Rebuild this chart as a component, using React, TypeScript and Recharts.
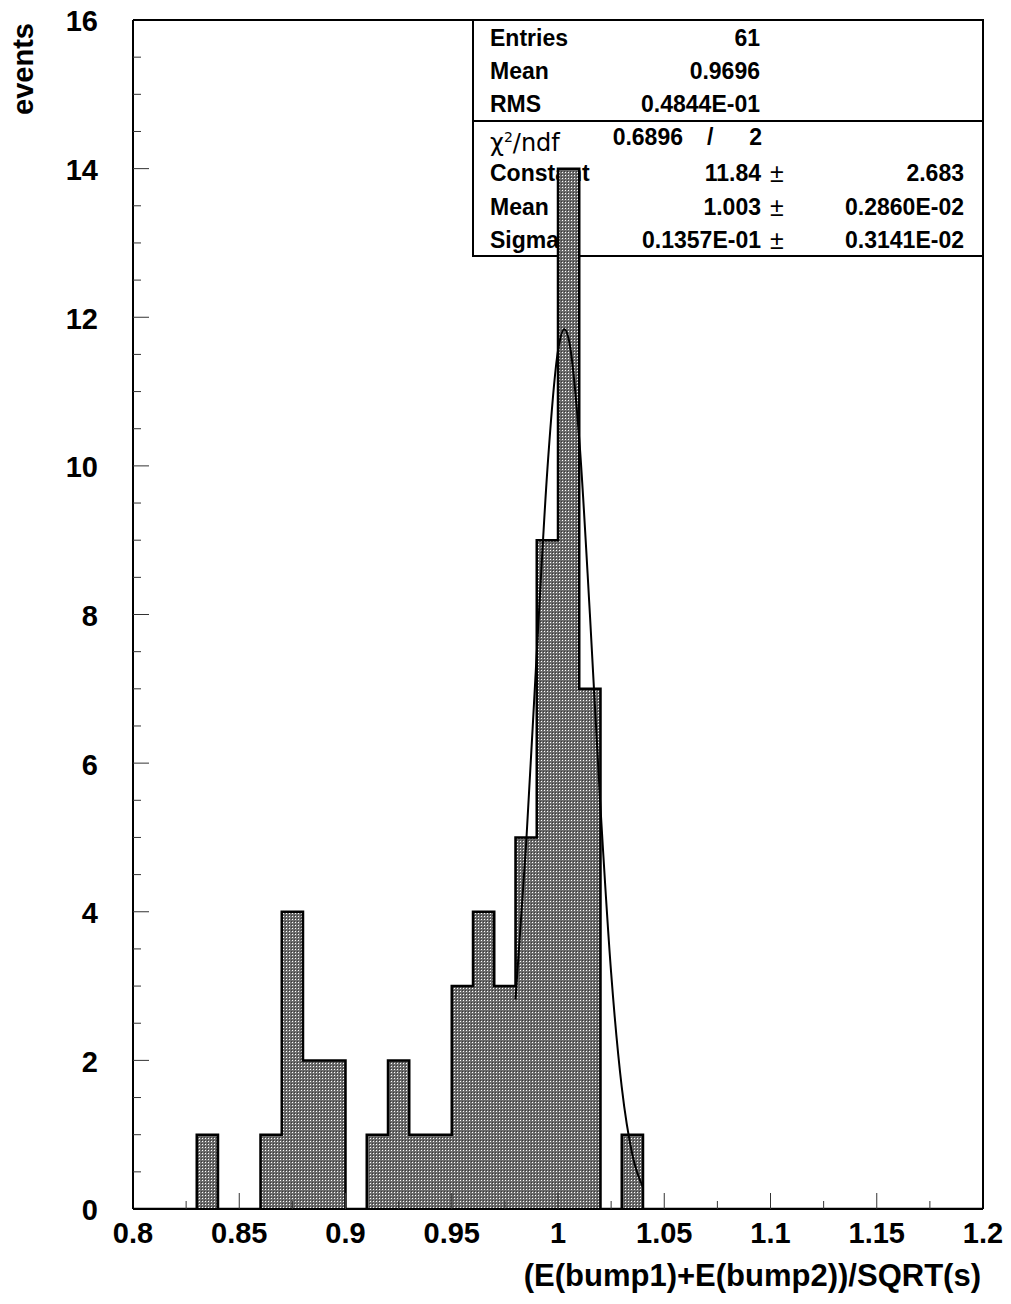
import React from "react";
import {
  ComposedChart,
  Area,
  Line,
  XAxis,
  YAxis,
  ReferenceLine,
} from "recharts";

// histogram: bins of 0.01 from 0.80 to 1.20
const binStart = 0.8;
const binWidth = 0.01;
const binCounts = [
  0, 0, 0, 1, 0, 0, 1, 4, 2, 2,
  0, 1, 2, 1, 1, 3, 4, 3, 5, 9,
  14, 7, 0, 1, 0, 0, 0, 0, 0, 0,
  0, 0, 0, 0, 0, 0, 0, 0, 0, 0,
];

// gaussian fit curve
const fitX = [0.98, 0.985, 0.99, 0.995, 1.0, 1.003, 1.005, 1.01, 1.015, 1.02, 1.025, 1.03, 1.035, 1.04];
const fitY = [2.82, 4.91, 7.48, 9.95, 11.55, 11.84, 11.71, 10.36, 8.01, 5.4, 3.18, 1.64, 0.73, 0.29];

const xTicks = [0.8, 0.825, 0.85, 0.875, 0.9, 0.925, 0.95, 0.975, 1.0, 1.025, 1.05, 1.075, 1.1, 1.125, 1.15, 1.175, 1.2];
const xMajor = [0.8, 0.85, 0.9, 0.95, 1.0, 1.05, 1.1, 1.15, 1.2];
const yTicks = [
  0, 0.5, 1, 1.5, 2, 2.5, 3, 3.5, 4, 4.5, 5, 5.5, 6, 6.5, 7, 7.5, 8,
  8.5, 9, 9.5, 10, 10.5, 11, 11.5, 12, 12.5, 13, 13.5, 14, 14.5, 15, 15.5, 16,
];
const yMajor = [0, 2, 4, 6, 8, 10, 12, 14, 16];

const statsTop = [
  { label: "Entries", value: "61" },
  { label: "Mean", value: "0.9696" },
  { label: "RMS", value: "0.4844E-01" },
];
const chi2 = { value: "0.6896", ndf: "2" };
const fitParams = [
  { label: "Constant", value: "11.84", error: "2.683" },
  { label: "Mean", value: "1.003", error: "0.2860E-02" },
  { label: "Sigma", value: "0.1357E-01", error: "0.3141E-02" },
];

const histData = binCounts
  .map((c, i) => ({ x: +(binStart + i * binWidth).toFixed(2), count: c }))
  .concat([{ x: 1.2, count: 0 }]);
const fitData = fitX.map((x, i) => ({ x, y: fitY[i] }));

const FONT = "'Liberation Sans', Arial, Helvetica, sans-serif";
const W = 1011;
const H = 1304;

const near = (a: number, list: number[]) => list.some((m) => Math.abs(m - a) < 1e-6);

const YTick = (props: any) => {
  const { x, y, payload } = props;
  const v = payload.value;
  const major = near(v, yMajor);
  return (
    <g>
      {v > 0 && v < 16 && (
        <line x1={x} x2={x + (major ? 16 : 8)} y1={y} y2={y} stroke="#333" strokeWidth={1} />
      )}
      {major && (
        <text x={x - 35} y={y + 1} dy="0.36em" textAnchor="end" fontFamily={FONT} fontWeight="bold" fontSize={29} fill="#000">
          {v}
        </text>
      )}
    </g>
  );
};

const XTick = (props: any) => {
  const { x, y, payload } = props;
  const v = payload.value;
  const major = near(v, xMajor);
  return (
    <g>
      {v > 0.8 && v < 1.2 && (
        <line x1={x} x2={x} y1={y} y2={y - (major ? 16 : 8)} stroke="#333" strokeWidth={1} />
      )}
      {major && (
        <text x={x} y={y + 34} textAnchor="middle" fontFamily={FONT} fontWeight="bold" fontSize={29} fill="#000">
          {String(+v.toFixed(2))}
        </text>
      )}
    </g>
  );
};

const rowStyle = (top: number): React.CSSProperties => ({
  position: "absolute",
  top: top - 14,
  height: 28,
  lineHeight: "28px",
  whiteSpace: "nowrap",
});

const StatsBox = () => {
  const left = 472;
  const txt: React.CSSProperties = { fontFamily: FONT, fontWeight: "bold", fontSize: 23, color: "#000" };
  const topRows = [38, 71, 104];
  const fitRows = [173, 207, 240];
  return (
    <div style={{ position: "absolute", left: 0, top: 0, width: W, height: H, zIndex: 0 }}>
      <div
        style={{
          position: "absolute",
          left,
          top: 19,
          width: 983 - left + 1,
          height: 257 - 19,
          border: "2px solid #000",
          boxSizing: "border-box",
          background: "#fff",
        }}
      />
      <div style={{ position: "absolute", left, top: 120, width: 983 - left, height: 2, background: "#000" }} />
      {statsTop.map((s, i) => (
        <React.Fragment key={s.label}>
          <div style={{ ...txt, ...rowStyle(topRows[i]), left: 490 }}>{s.label}</div>
          <div style={{ ...txt, ...rowStyle(topRows[i]), right: W - 760 }}>{s.value}</div>
        </React.Fragment>
      ))}
      <div style={{ ...txt, ...rowStyle(137), left: 490, fontWeight: "normal", fontFamily: "'DejaVu Sans', sans-serif", fontSize: 24 }}>
        χ<sup style={{ fontSize: 14 }}>2</sup>/ndf
      </div>
      <div style={{ ...txt, ...rowStyle(137), right: W - 683 }}>{chi2.value}</div>
      <div style={{ ...txt, ...rowStyle(137), left: 707 }}>/</div>
      <div style={{ ...txt, ...rowStyle(137), right: W - 762 }}>{chi2.ndf}</div>
      {fitParams.map((p, i) => (
        <React.Fragment key={p.label}>
          <div style={{ ...txt, ...rowStyle(fitRows[i]), left: 490 }}>{p.label}</div>
          <div style={{ ...txt, ...rowStyle(fitRows[i]), right: W - 761 }}>{p.value}</div>
          <div style={{ ...txt, ...rowStyle(fitRows[i]), left: 770, fontWeight: "normal", fontSize: 25 }}>±</div>
          <div style={{ ...txt, ...rowStyle(fitRows[i]), right: W - 964 }}>{p.error}</div>
        </React.Fragment>
      ))}
    </div>
  );
};

export default function App() {
  return (
    <div style={{ position: "absolute", left: 0, top: 0, width: W, height: H, background: "#fff", overflow: "hidden" }}>
      <StatsBox />
      <div style={{ position: "absolute", left: 0, top: 0, zIndex: 1 }}>
        <ComposedChart width={W} height={H} margin={{ top: 20, right: 28, bottom: 35, left: 73 }}>
          <defs>
            <pattern id="hatch" width="3" height="3" patternUnits="userSpaceOnUse">
              <rect width="3" height="3" fill="#6c6c6c" />
              <rect x="1" y="1" width="1" height="1" fill="#ffffff" />
              <rect x="0" y="0" width="1" height="1" fill="#3a3a3a" />
            </pattern>
          </defs>
          <XAxis
            dataKey="x"
            type="number"
            domain={[0.8, 1.2]}
            ticks={xTicks}
            interval={0}
            allowDataOverflow
            height={60}
            tickSize={0}
            tickMargin={0}
            tickLine={false}
            axisLine={{ stroke: "#000", strokeWidth: 2 }}
            tick={<XTick />}
          />
          <YAxis
            type="number"
            domain={[0, 16]}
            ticks={yTicks}
            interval={0}
            allowDataOverflow
            width={60}
            tickSize={0}
            tickMargin={0}
            tickLine={false}
            axisLine={{ stroke: "#000", strokeWidth: 2 }}
            tick={<YTick />}
          />
          <Area
            data={histData}
            dataKey="count"
            type="stepAfter"
            stroke="#000"
            strokeWidth={2.5}
            fill="url(#hatch)"
            fillOpacity={1}
            baseValue={0}
            isAnimationActive={false}
            dot={false}
            activeDot={false}
          />
          <Line
            data={fitData}
            dataKey="y"
            type="monotone"
            stroke="#000"
            strokeWidth={2}
            dot={false}
            activeDot={false}
            isAnimationActive={false}
          />
          <ReferenceLine y={16} stroke="#000" strokeWidth={2} />
          <ReferenceLine x={1.2} stroke="#000" strokeWidth={2} />
        </ComposedChart>
      </div>
      <div
        style={{
          position: "absolute",
          left: 23,
          top: 69,
          transform: "translate(-50%, -50%) rotate(-90deg)",
          fontFamily: FONT,
          fontWeight: "bold",
          fontSize: 29,
          whiteSpace: "nowrap",
          zIndex: 2,
        }}
      >
        events
      </div>
      <div
        style={{
          position: "absolute",
          right: W - 981,
          top: 1276 - 18,
          lineHeight: "36px",
          fontFamily: FONT,
          fontWeight: "bold",
          fontSize: 31,
          whiteSpace: "nowrap",
          zIndex: 2,
        }}
      >
        (E(bump1)+E(bump2))/SQRT(s)
      </div>
    </div>
  );
}
